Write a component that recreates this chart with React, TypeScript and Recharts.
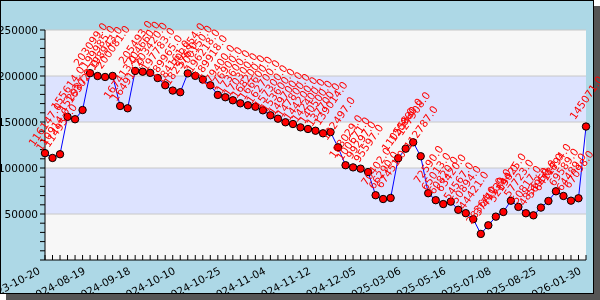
import React from "react";
import {
  LineChart,
  Line,
  XAxis,
  YAxis,
  ReferenceArea,
  ReferenceLine,
  LabelList,
} from "recharts";

// values, one per point (73 points)
const values = [
  116147, 110914, 114957, 155614, 152987, 163021, 203099, 199985, 198943, 200081,
  167413, 164914, 205493, 204660, 203420, 197783, 189965, 184161, 182376, 202854,
  200150, 196218, 189918, 179400, 176900, 173600, 170300, 168200, 166600, 162700,
  157300, 153600, 149700, 147800, 144200, 142400, 140500, 137700, 139014, 122497,
  103029, 100671, 99297, 95597, 70402, 66290, 67451, 110558, 120980, 127908,
  112787, 72590, 65013, 60820, 63420, 54567, 50894, 44421, 28364, 37712,
  47139, 52190, 64425, 57723, 50817, 48562, 56958, 64127, 74694, 69589,
  64489, 67098, 145071,
];

// date labels shown under every 6th point
const tickLabels = [
  "2023-10-20", "2024-08-19", "2024-09-18", "2024-10-10", "2024-10-25",
  "2024-11-04", "2024-11-12", "2024-12-05", "2025-03-06", "2025-05-16",
  "2025-07-08", "2025-08-25", "2026-01-30",
];
const labelEvery = 6;

const yTicks = [
  0, 10000, 20000, 30000, 40000, 50000, 60000, 70000, 80000, 90000, 100000,
  110000, 120000, 130000, 140000, 150000, 160000, 170000, 180000, 190000,
  200000, 210000, 220000, 230000, 240000, 250000,
];
const gridValues = [50000, 100000, 150000, 200000, 250000];
// alternating bands: [from, to]
const blueBands = [
  [50000, 100000],
  [150000, 200000],
];

const data = values.map((v, i) => ({ idx: i, v }));

const FONT = "DejaVu Sans";
const PLOT_BOTTOM = 260;

const XTick = ({ x, payload }: any) => {
  const i = payload.value;
  const label = i % labelEvery === 0 ? tickLabels[i / labelEvery] : null;
  const tx = x - 4;
  const ty = 273;
  return (
    <g>
      <line x1={x} x2={x} y1={PLOT_BOTTOM} y2={PLOT_BOTTOM - 5} stroke="#000" />
      {label && (
        <text
          x={tx}
          y={ty}
          transform={`rotate(-28, ${tx}, ${ty})`}
          textAnchor="end"
          fontSize={10.5}
          fontFamily={FONT}
          fill="#000"
        >
          {label}
        </text>
      )}
    </g>
  );
};

const YTick = ({ y, payload }: any) => {
  const v = payload.value;
  const showLabel = v > 0 && v % 50000 === 0;
  return (
    <g>
      <line x1={45} x2={40} y1={y} y2={y} stroke="#000" />
      {showLabel && (
        <text
          x={38}
          y={y}
          textAnchor="end"
          dominantBaseline="central"
          fontSize={10.5}
          fontFamily={FONT}
          fill="#000"
        >
          {v}
        </text>
      )}
    </g>
  );
};

const renderPointLabel = (p: any) => {
  const { x, y, value } = p;
  const cx = x;
  const cy = y - 29;
  return (
    <text
      x={cx}
      y={cy}
      transform={`rotate(-55, ${cx}, ${cy})`}
      textAnchor="middle"
      dominantBaseline="central"
      fontSize={10.5}
      fontFamily={FONT}
      fill="#ff0000"
    >
      {Number(value).toFixed(1)}
    </text>
  );
};

export default function App() {
  return (
    <div style={{ position: "fixed", left: 0, top: 0, width: 600, height: 300 }}>
      {/* drop shadow */}
      <div
        style={{
          position: "absolute",
          left: 6,
          top: 6,
          width: 594,
          height: 294,
          background: "#555555",
        }}
      />
      {/* frame */}
      <div
        style={{
          position: "absolute",
          left: 0,
          top: 0,
          width: 594,
          height: 294,
          boxSizing: "border-box",
          border: "1px solid #000",
          background: "#add8e6",
        }}
      />
      {/* chart, clipped at the bottom edge of the frame */}
      <div
        style={{
          position: "absolute",
          left: 0,
          top: 0,
          width: 600,
          height: 293,
          overflow: "hidden",
        }}
      >
        <LineChart
          width={600}
          height={300}
          data={data}
          margin={{ top: 30, right: 14, bottom: 0, left: 0 }}
        >
          <ReferenceArea y1={0} y2={250000} fill="#f7f7f7" fillOpacity={1} stroke="none" />
          {blueBands.map(([a, b]) => (
            <ReferenceArea
              key={a}
              y1={a}
              y2={b}
              fill="#dde3ff"
              fillOpacity={1}
              stroke="none"
            />
          ))}
          {gridValues.map((g) => (
            <ReferenceLine key={g} y={g} stroke="#c8c8c8" strokeWidth={1} />
          ))}
          <XAxis
            dataKey="idx"
            type="category"
            interval={0}
            height={40}
            tickLine={false}
            axisLine={{ stroke: "#000" }}
            tick={<XTick />}
          />
          <YAxis
            width={45}
            domain={[0, 250000]}
            ticks={yTicks}
            interval={0}
            tickLine={false}
            axisLine={{ stroke: "#000" }}
            tick={<YTick />}
          />
          <Line
            type="linear"
            dataKey="v"
            stroke="#0000ff"
            strokeWidth={1}
            dot={{ r: 3.7, fill: "#ff0000", stroke: "#000", strokeWidth: 1 }}
            isAnimationActive={false}
          >
            <LabelList dataKey="v" content={renderPointLabel} />
          </Line>
        </LineChart>
      </div>
    </div>
  );
}
